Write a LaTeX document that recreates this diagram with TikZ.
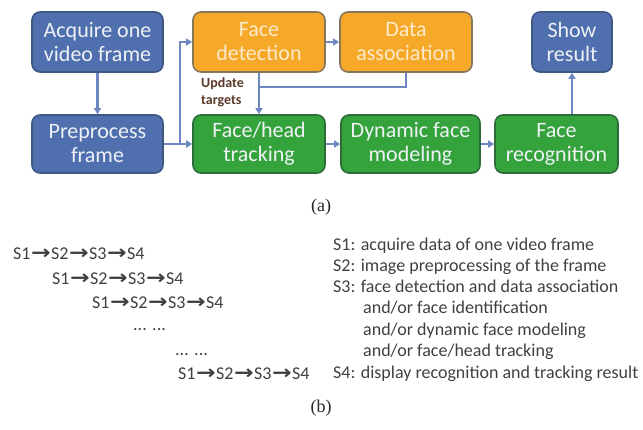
\documentclass[tikz,border=0pt]{standalone}
\usepackage{fontspec}
\usepackage{graphicx}
\setmainfont{Carlito}
\newfontfamily\capfont{Liberation Serif}
\newfontfamily\arrowfont{DejaVu Sans}
\usetikzlibrary{arrows.meta}

\definecolor{boxblue}{HTML}{4F6FAE}
\definecolor{boxorange}{HTML}{F6A829}
\definecolor{boxgreen}{HTML}{35A33B}
\definecolor{bdblue}{HTML}{3E5785}
\definecolor{bdorange}{HTML}{86775C}
\definecolor{bdgreen}{HTML}{2E6B3A}
\definecolor{linkcol}{HTML}{6F87C0}
\definecolor{txtlight}{HTML}{EEF2F5}
\definecolor{txtorange}{HTML}{FCEBCB}
\definecolor{notecol}{HTML}{5B3A29}
\definecolor{bodytext}{HTML}{404040}

% heavy step arrow used in the schedule lines
\newcommand{\sarr}{\kern0.5bp\scalebox{1.3}[1.1]{\arrowfont\bfseries →}\kern0.5bp}
\newcommand{\chain}{S1\sarr S2\sarr S3\sarr S4}

\tikzset{
  stage/.style={rounded corners=8bp, line width=1.6bp, align=center,
    inner sep=2bp, font=\fontsize{22bp}{24bp}\selectfont},
  bluebox/.style={stage, fill=boxblue, draw=bdblue, text=txtlight},
  orangebox/.style={stage, fill=boxorange, draw=bdorange, text=txtorange},
  greenbox/.style={stage, fill=boxgreen, draw=bdgreen, text=txtlight},
  link/.style={draw=linkcol, line width=2.2bp},
  linkarrow/.style={link, -{Triangle[length=6bp,width=7bp]}},
  seqline/.style={anchor=base west, inner sep=0pt, text=bodytext,
    font=\fontsize{18bp}{21bp}\selectfont},
  caption/.style={inner sep=0pt, text=black!85,
    font=\capfont\fontsize{18bp}{20bp}\selectfont}
}

\begin{document}
\begin{tikzpicture}[x=1bp, y=-1bp]
  \useasboundingbox (0,0) rectangle (643,429);

  % --- (a) processing pipeline ---
  \node[bluebox, minimum width=131bp, minimum height=60bp] (acq) at (97.5,42) {Acquire one\\video frame};
  \node[bluebox, minimum width=131bp, minimum height=58bp] (pre) at (97.5,144) {Preprocess\\frame};
  \node[orangebox, minimum width=132bp, minimum height=60bp] (det) at (259,42) {Face\\detection};
  \node[greenbox, minimum width=132bp, minimum height=58bp] (trk) at (259,144) {Face/head\\tracking};
  \node[orangebox, minimum width=132bp, minimum height=60bp] (assoc) at (406,42) {Data\\association};
  \node[greenbox, minimum width=139bp, minimum height=58bp] (dyn) at (410.5,144) {Dynamic face\\modeling};
  \node[greenbox, minimum width=123bp, minimum height=58bp] (rec) at (556.5,144) {Face\\recognition};
  \node[bluebox, minimum width=80bp, minimum height=60bp] (show) at (572,42) {Show\\result};

  \coordinate (branch) at (180,144);
  \coordinate (joint) at (259,87);

  \draw[linkarrow] (acq) -- (pre);
  \draw[linkarrow] (pre) -- (trk);
  \draw[linkarrow] (branch) |- (det.west);
  \draw[linkarrow] (det) -- (assoc);
  \draw[linkarrow] (det) -- (trk);
  \draw[link] (assoc.south) |- (joint);
  \draw[linkarrow] (trk) -- (dyn);
  \draw[linkarrow] (dyn) -- (rec);
  \draw[linkarrow] (show.south |- rec.north) -- (show.south);

  \node[anchor=west, align=left, inner sep=0pt, text=notecol,
    font=\bfseries\fontsize{14bp}{17bp}\selectfont] (upd) at (201,92) {Update\\targets};

  \node[caption] (capa) at (321,207) {(a)};

  % --- (b) pipelined frame schedule ---
  \node[seqline] (c1) at (13,259) {\chain};
  \node[seqline] (c2) at (52,284) {\chain};
  \node[seqline] (c3) at (92,308) {\chain};
  \node[seqline] (d1) at (133,330) {... ...};
  \node[seqline] (d2) at (175,355) {... ...};
  \node[seqline] (c4) at (178,379) {\chain};

  \node[seqline] (s1) at (333,250) {S1: acquire data of one video frame};
  \node[seqline] (s2) at (333,271) {S2: image preprocessing of the frame};
  \node[seqline] (s3) at (333,292) {S3: face detection and data association};
  \node[seqline] (s3a) at (363,313) {and/or face identification};
  \node[seqline] (s3b) at (363,335) {and/or dynamic face modeling};
  \node[seqline] (s3c) at (363,356) {and/or face/head tracking};
  \node[seqline] (s4) at (333,378) {S4: display recognition and tracking result};

  \node[caption] (capb) at (321,408) {(b)};
\end{tikzpicture}
\end{document}
